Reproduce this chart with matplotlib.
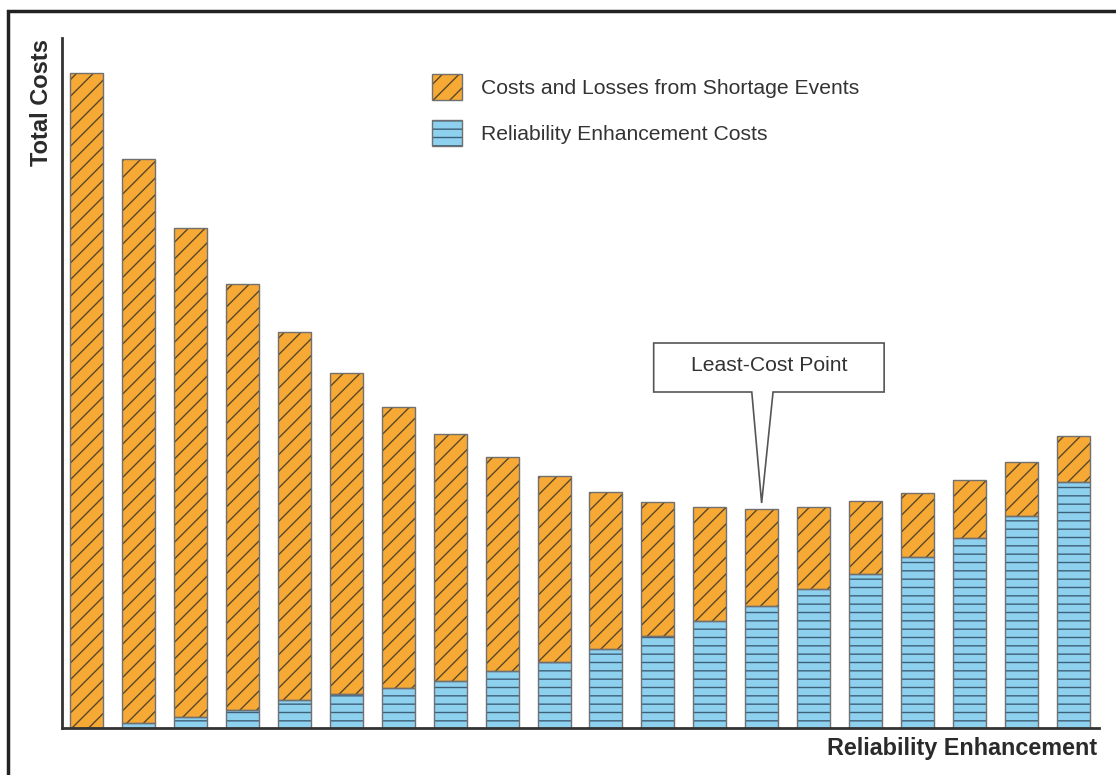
import numpy as np
import matplotlib
matplotlib.use('Agg')
import matplotlib.pyplot as plt
from matplotlib.patches import Rectangle, Polygon
from matplotlib.legend_handler import HandlerTuple

plt.rcParams['font.family'] = ['Liberation Sans', 'DejaVu Sans']
plt.rcParams['hatch.linewidth'] = 1.0

# bar heights (arbitrary units)
steps = np.arange(20)
total_cost = [655, 569, 500, 444, 396, 355, 321, 294, 271, 252,
              236, 226, 221, 219, 221, 227, 235, 248, 266, 292]
reliability_cost = [0, 5, 11, 18, 28, 34, 40, 47, 57, 66,
                    79, 92, 107, 122, 139, 154, 171, 190, 212, 246]
shortage_cost = [t - r for t, r in zip(total_cost, reliability_cost)]
least_cost_idx = int(np.argmin(total_cost))

orange = '#f6a935'
blue = '#8dd1ef'
edge = '#707070'

fig = plt.figure(figsize=(11.16, 7.75), dpi=100)
ax = fig.add_axes([62/1116, 47/775, (1099-62)/1116, 690/775])

w = 0.636
# fill + hatch layer (hatch takes the edge colour), then the grey outline
b_rel = ax.bar(steps, reliability_cost, width=w, color=blue, edgecolor='#3d5f78',
               linewidth=0, hatch='--')
b_sho = ax.bar(steps, shortage_cost, width=w, bottom=reliability_cost, color=orange,
               edgecolor='#5a4828', linewidth=0, hatch='//')
o_rel = ax.bar(steps, reliability_cost, width=w, fill=False, edgecolor=edge, linewidth=1.0)
o_sho = ax.bar(steps, shortage_cost, width=w, bottom=reliability_cost, fill=False,
               edgecolor=edge, linewidth=1.0)

ax.set_xlim(-0.48, 19.5)
ax.set_ylim(0, 690)
ax.set_xticks([])
ax.set_yticks([])
for s in ['top', 'right']:
    ax.spines[s].set_visible(False)
for s in ['left', 'bottom']:
    ax.spines[s].set_color('#333333')
    ax.spines[s].set_linewidth(2)

fig.text(41/1116, 1 - 103/775, 'Total Costs', rotation=90, fontsize=17,
         fontweight='bold', color='#2a2a2a', ha='center', va='center')
fig.text(1097/1116, 1 - 748/775, 'Reliability Enhancement', fontsize=16.8,
         fontweight='bold', color='#2a2a2a', ha='right', va='center')

leg = ax.legend(handles=[(b_sho, o_sho), (b_rel, o_rel)],
                labels=['Costs and Losses from Shortage Events',
                        'Reliability Enhancement Costs'],
                handler_map={tuple: HandlerTuple(ndivide=1)},
                loc='upper left',
                bbox_to_anchor=((432-62)/(1099-62), 1 - (74-38)/690),
                frameon=False, fontsize=15.2, handlelength=1.43, handleheight=1.5,
                labelspacing=0.95, handletextpad=0.9, borderpad=0, borderaxespad=0)
for t in leg.get_texts():
    t.set_color('#333333')

# callout box pointing at the least-cost bar
tip_y = total_cost[least_cost_idx] + 6
cx = least_cost_idx
box = [(10.92, 336), (10.92, 385), (15.36, 385), (15.36, 336),
       (cx + 0.22, 336), (cx, tip_y), (cx - 0.19, 336)]
ax.add_patch(Polygon(box, closed=True, facecolor='white', edgecolor='#555555',
                     linewidth=1.2, zorder=5))
ax.text(13.14, 362, 'Least-Cost Point', fontsize=15.2, color='#333333',
        ha='center', va='center', zorder=6)

# outer frame
fig.patches.append(Rectangle((8/1116, -0.1), 1.2, 1.1 - 11/775,
                             transform=fig.transFigure, fill=False,
                             edgecolor='#222222', linewidth=2.5))

fig.savefig('out.png', dpi=100)
